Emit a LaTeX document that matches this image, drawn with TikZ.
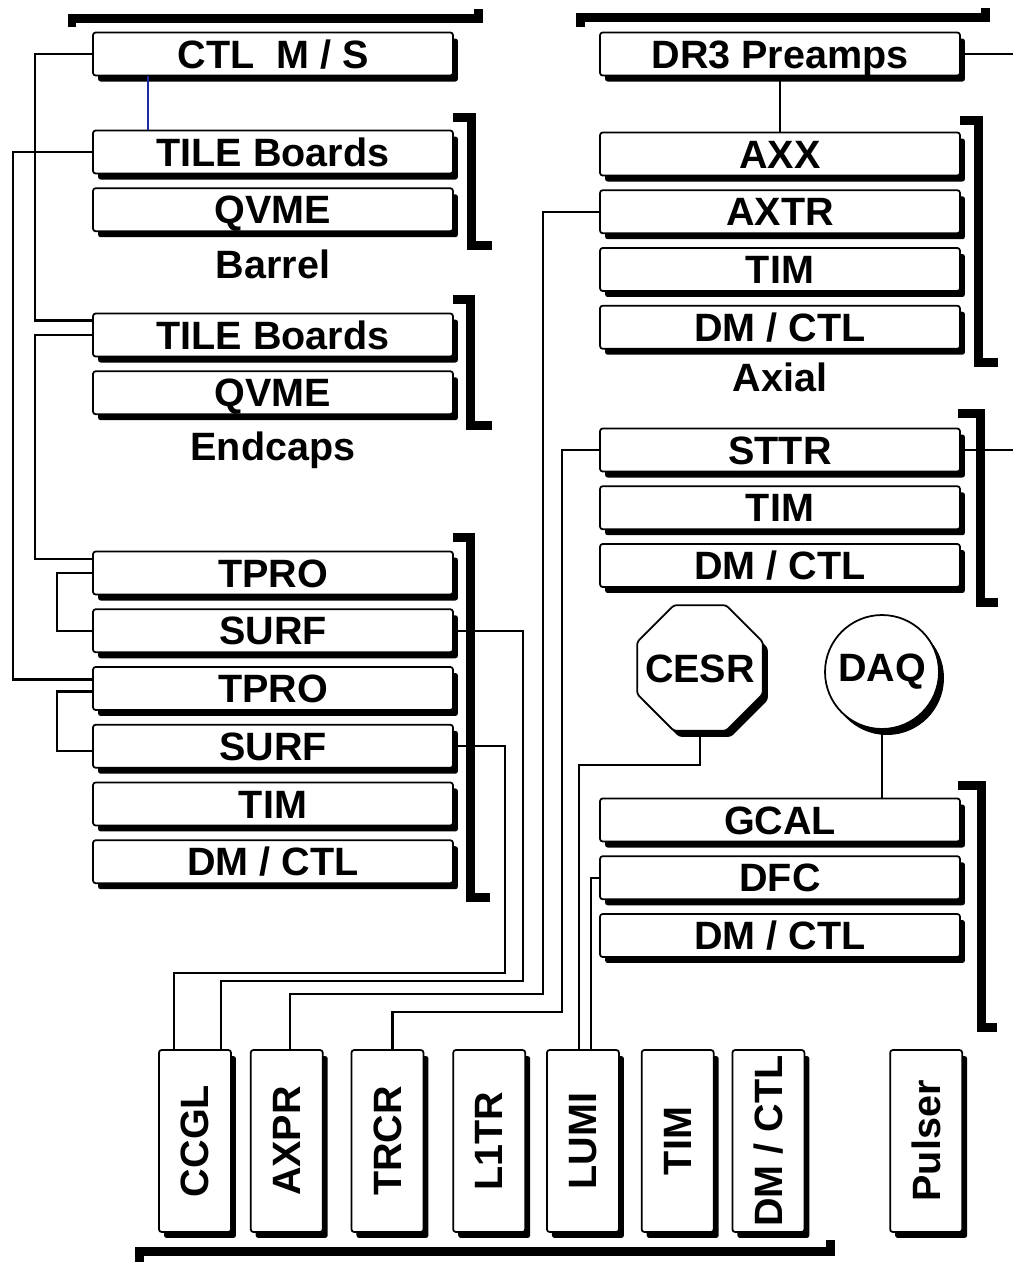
\documentclass[tikz,border=0pt]{standalone}
\usepackage{fontspec}
\setmainfont{Liberation Sans}
\usetikzlibrary{positioning, shapes.geometric, shadows}
\definecolor{linkBlue}{RGB}{30,40,160}

\begin{document}
\begin{tikzpicture}[x=0.02cm, y=0.02cm, node distance=0.26cm,
				card/.style={draw, line width=1pt, fill=white, rounded corners=1.5pt, inner sep=0pt,
					font=\bfseries\fontsize{22.5}{24}\selectfont,
					drop shadow={shadow xshift=0.1cm, shadow yshift=-0.12cm, fill=black, opacity=1}},
				brd/.style={card, minimum width=7.2cm, minimum height=0.86cm, text height=16pt, text depth=0pt},
				vbrd/.style={card, minimum width=1.44cm, minimum height=3.64cm},
				grp/.style={font=\bfseries\fontsize{22.5}{24}\selectfont, inner sep=0pt, text height=16pt, text depth=0pt},
				wire/.style={line width=1.3pt},
				crate/.style={line width=0.18cm}]
				\useasboundingbox (0,0) rectangle (1013,-1262);
				\node[brd] (ctl) at (273,-54) {CTL~~M / S};
				\node[brd] (tileb) at (273,-152) {TILE Boards};
				\node[brd, below=of tileb] (qvmeb) {QVME};
				\node[grp, below=0.36cm of qvmeb] (barrel) {Barrel};
				\node[brd] (tilee) at (273,-335) {TILE Boards};
				\node[brd, below=of tilee] (qvmee) {QVME};
				\node[grp, below=0.33cm of qvmee] (endcaps) {Endcaps};
				\node[brd] (tpro1) at (273,-573) {TPRO};
				\node[brd, below=of tpro1] (surf1) {SURF};
				\node[brd, below=of surf1] (tpro2) {TPRO};
				\node[brd, below=of tpro2] (surf2) {SURF};
				\node[brd, below=of surf2] (timl) {TIM};
				\node[brd, below=of timl] (dml) {DM / CTL};
				\node[brd] (dr3) at (780,-54) {DR3 Preamps};
				\node[brd] (axx) at (780,-154) {AXX};
				\node[brd, below=of axx] (axtr) {AXTR};
				\node[brd, below=of axtr] (timax) {TIM};
				\node[brd, below=of timax] (dmax) {DM / CTL};
				\node[grp, below=0.26cm of dmax] (axial) {Axial};
				\node[brd] (sttr) at (780,-450) {STTR};
				\node[brd, below=of sttr] (timst) {TIM};
				\node[brd, below=of timst] (dmst) {DM / CTL};
				\node[card, regular polygon, regular polygon sides=8, minimum size=2.72cm,
					label={[grp]center:CESR}] (cesr) at (700,-668) {};
				\node[card, circle, minimum size=2.28cm] (daq) at (882,-672) {DAQ};
				\node[brd] (gcal) at (780,-820) {GCAL};
				\node[brd, below=of gcal] (dfc) {DFC};
				\node[brd, below=of dfc] (dmg) {DM / CTL};
				\node[vbrd] (ccgl) at (195,-1141) {\rotatebox{90}{CCGL}};
				\node[vbrd, right=0.36cm of ccgl] (axpr) {\rotatebox{90}{AXPR}};
				\node[vbrd, right=0.54cm of axpr] (trcr) {\rotatebox{90}{TRCR}};
				\node[vbrd, right=0.56cm of trcr] (l1tr) {\rotatebox{90}{L1TR}};
				\node[vbrd, right=0.4cm of l1tr] (lumi) {\rotatebox{90}{LUMI}};
				\node[vbrd, right=0.42cm of lumi] (timb) {\rotatebox{90}{TIM}};
				\node[vbrd, right=0.34cm of timb] (dmb) {\rotatebox{90}{DM / CTL}};
				\node[vbrd, right=1.68cm of dmb] (pulser) {\rotatebox{90}{Pulser}};
				\coordinate (la) at (35,0);
				\coordinate (lb) at (13,0);
				\coordinate (re) at (1013,0);
				\coordinate (s2) at (505,-973);
				\coordinate (s1) at (523,-981);
				\coordinate (a1) at (543,-994);
				\coordinate (t1) at (562,-1012);
				\coordinate (ce) at (579,-765);
				\coordinate (df) at (591,0);
				\draw[wire] (ctl.west) -- (ctl.west -| la) |- ([yshift=0.29cm]tilee.west);
				\draw[wire] (tilee.west) -- (tilee.west -| la) |- ([yshift=0.28cm]tpro1.west);
				\draw[wire] (tileb.west) -- (tileb.west -| lb) |- ([yshift=0.18cm]tpro2.west);
				\draw[wire] (tpro1.west) -- ++(-0.7cm,0) |- (surf1.west);
				\draw[wire] ([yshift=-0.06cm]tpro2.west) -- ++(-0.7cm,0) |- ([yshift=-0.1cm]surf2.west);
				\draw[wire, linkBlue] ([xshift=-2.5cm]ctl.south) -- ([xshift=-2.5cm]tileb.north);
				\draw[wire] (dr3.south) -- (axx.north);
				\draw[wire] (dr3.east) -- (dr3.east -| re);
				\draw[wire] (sttr.east) -- (sttr.east -| re);
				\draw[wire] (daq.south) -- (daq.south |- gcal.north);
				\draw[wire] (cesr.south) |- (ce) -- (ce |- lumi.north);
				\draw[wire] (dfc.west) -- (dfc.west -| df) -- (df |- lumi.north);
				\draw[wire] (surf2.east) -| (s2) -| ([xshift=-0.42cm]ccgl.north);
				\draw[wire] (surf1.east) -| (s1) -| ([xshift=0.52cm]ccgl.north);
				\draw[wire] (axtr.west) -| (a1) -| ([xshift=0.06cm]axpr.north);
				\draw[wire] (sttr.west) -| (t1) -| ([xshift=0.1cm]trcr.north);
				\draw[crate] (72,-27) -- (72,-18) -- (478,-18) -- (478,-9);
				\draw[crate] (580,-27) -- (580,-17) -- (985,-17) -- (985,-8);
				\draw[crate] (139,-1262) -- (139,-1251) -- (830,-1251) -- (830,-1240);
				\draw[crate] (453,-117) -- (471,-117) -- (471,-245) -- (492,-245);
				\draw[crate] (453,-299) -- (470,-299) -- (470,-425) -- (492,-425);
				\draw[crate] (453,-537) -- (470,-537) -- (470,-897) -- (490,-897);
				\draw[crate] (960,-120) -- (978,-120) -- (978,-362) -- (998,-362);
				\draw[crate] (958,-413) -- (980,-413) -- (980,-602) -- (998,-602);
				\draw[crate] (958,-785) -- (981,-785) -- (981,-1027) -- (997,-1027);
			\end{tikzpicture}
\end{document}
